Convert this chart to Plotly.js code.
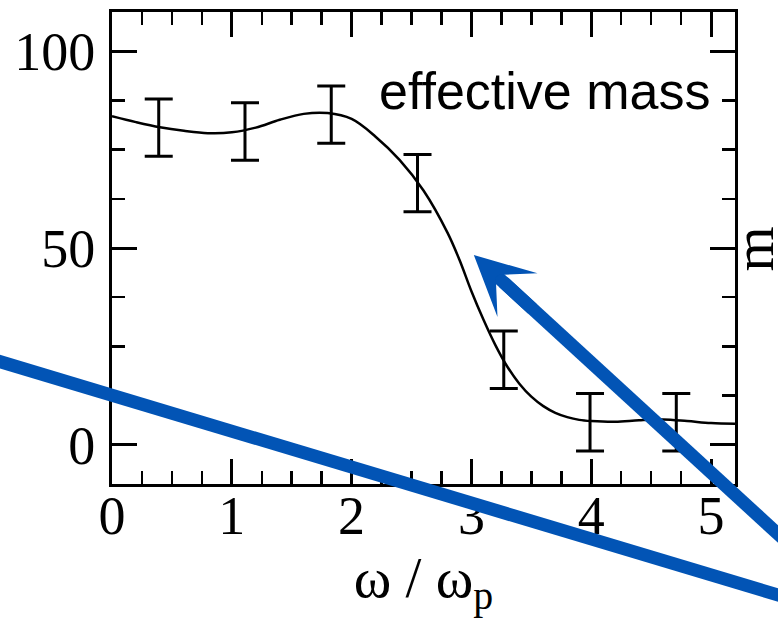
<!DOCTYPE html>
<html>
<head>
<meta charset="utf-8">
<script src="https://cdn.plot.ly/plotly-3.0.1.min.js"></script>
<style>
  html, body { margin: 0; padding: 0; background: #ffffff; }
  #chart { width: 778px; height: 625px; }
</style>
</head>
<body>
<div id="chart"></div>
<script>
// Measured points with error bars
const omegaPts = [0.39, 1.11, 1.83, 2.55, 3.27, 3.99, 4.71];
const massPts  = [80.6, 79.6, 83.9, 66.5, 21.6, 5.7, 5.7];
const massErr  = [7.3, 7.3, 7.3, 7.3, 7.3, 7.3, 7.3];

// Smooth fitted curve
const omegaFit = [0.0, 0.2, 0.4, 0.6, 0.8, 1.0, 1.2, 1.4, 1.6, 1.8, 2.0, 2.2, 2.4, 2.6,
                  2.8, 2.9, 3.0, 3.1, 3.2, 3.3, 3.4, 3.5, 3.6, 3.7, 3.8, 3.9, 4.0, 4.2,
                  4.4, 4.6, 4.8, 5.0, 5.2];
const massFit  = [83.5, 82.0, 80.7, 79.8, 79.2, 79.4, 80.6, 82.6, 84.1, 84.3, 82.8, 78.3,
                  72.4, 64.6, 53.9, 47.0, 39.0, 31.8, 25.3, 19.8, 15.5, 12.2, 9.8, 8.1,
                  7.0, 6.3, 6.0, 5.8, 6.2, 6.4, 6.0, 5.5, 5.3];

// Axis settings
const xRange = [0, 5.2];
const yRange = [-10, 110];
const xTickStep = 1, xMinorStep = 0.25;
const yTickStep = 50, yMinorStep = 12.5;

// Labels
const xTitle = 'ω / ω<sub>p</sub>';
const panelLabel = 'effective mass';
const sideLabel = 'm';

// Blue overlay strokes (paper coordinates)
const slashX = [-0.212, 1.104];
const slashY = [0.272, -0.249];
const shaftX = [0.628, 1.169];
const shaftY = [0.428, -0.227];
const arrowTip = [3.02, 48.2];      // data coordinates of the arrow point
const arrowTail = [60, 55];         // pixel offset of the head's tail from the point

const blue = '#0254b5';
const serif = 'Liberation Serif, Times New Roman, serif';
const sans = 'Liberation Sans, Arial, sans-serif';

const curve = {
  x: omegaFit, y: massFit,
  type: 'scatter', mode: 'lines',
  line: { color: '#000', width: 2.5, shape: 'spline', smoothing: 1 },
  hoverinfo: 'skip'
};

const points = {
  x: omegaPts, y: massPts,
  type: 'scatter', mode: 'markers',
  marker: { size: 1, color: 'rgba(0,0,0,0)' },
  error_y: { type: 'data', array: massErr, visible: true,
             color: '#000', thickness: 3, width: 14 },
  hoverinfo: 'skip'
};

function axisBase(range, dtick, minorStep) {
  return {
    range: range,
    tick0: 0, dtick: dtick,
    showgrid: false, zeroline: false,
    showline: true, linecolor: '#000', linewidth: 3,
    mirror: 'allticks',
    ticks: 'inside', ticklen: 25, tickwidth: 3, tickcolor: '#000',
    minor: { dtick: minorStep, ticks: 'inside', ticklen: 13,
             tickwidth: 2.5, tickcolor: '#000', showgrid: false },
    tickfont: { family: serif, size: 54, color: '#000' },
    fixedrange: true
  };
}

const xaxis = Object.assign(axisBase(xRange, xTickStep, xMinorStep), {
  title: { text: xTitle, font: { family: serif, size: 57, color: '#000' }, standoff: 4 },
  ticklabelstandoff: -18
});
const yaxis = Object.assign(axisBase(yRange, yTickStep, yMinorStep), {
  ticklabelstandoff: 3
});

const layout = {
  width: 778, height: 625,
  margin: { l: 112, r: 43, t: 12, b: 141 },
  paper_bgcolor: '#fff', plot_bgcolor: '#fff',
  showlegend: false,
  xaxis: xaxis, yaxis: yaxis,
  shapes: [
    {
      type: 'line', xref: 'paper', yref: 'paper',
      x0: slashX[0], y0: slashY[0], x1: slashX[1], y1: slashY[1],
      line: { color: blue, width: 13 }, layer: 'above'
    },
    {
      type: 'line', xref: 'paper', yref: 'paper',
      x0: shaftX[0], y0: shaftY[0], x1: shaftX[1], y1: shaftY[1],
      line: { color: blue, width: 13 }, layer: 'above'
    }
  ],
  annotations: [
    {
      text: panelLabel, x: 3.61, y: 89.8, xref: 'x', yref: 'y',
      xanchor: 'center', yanchor: 'middle', showarrow: false,
      font: { family: sans, size: 52, color: '#000' }
    },
    {
      text: sideLabel, x: 1.029, y: 0.497, xref: 'paper', yref: 'paper',
      xanchor: 'center', yanchor: 'middle', showarrow: false, textangle: -90,
      font: { family: serif, size: 58, color: '#000' }
    },
    {
      text: '', x: arrowTip[0], y: arrowTip[1], xref: 'x', yref: 'y',
      ax: arrowTail[0], ay: arrowTail[1],
      showarrow: true, arrowhead: 3, arrowsize: 0.76, arrowwidth: 13,
      arrowcolor: blue
    }
  ]
};

Plotly.newPlot('chart', [curve, points], layout, { staticPlot: true, displayModeBar: false });
</script>
</body>
</html>
